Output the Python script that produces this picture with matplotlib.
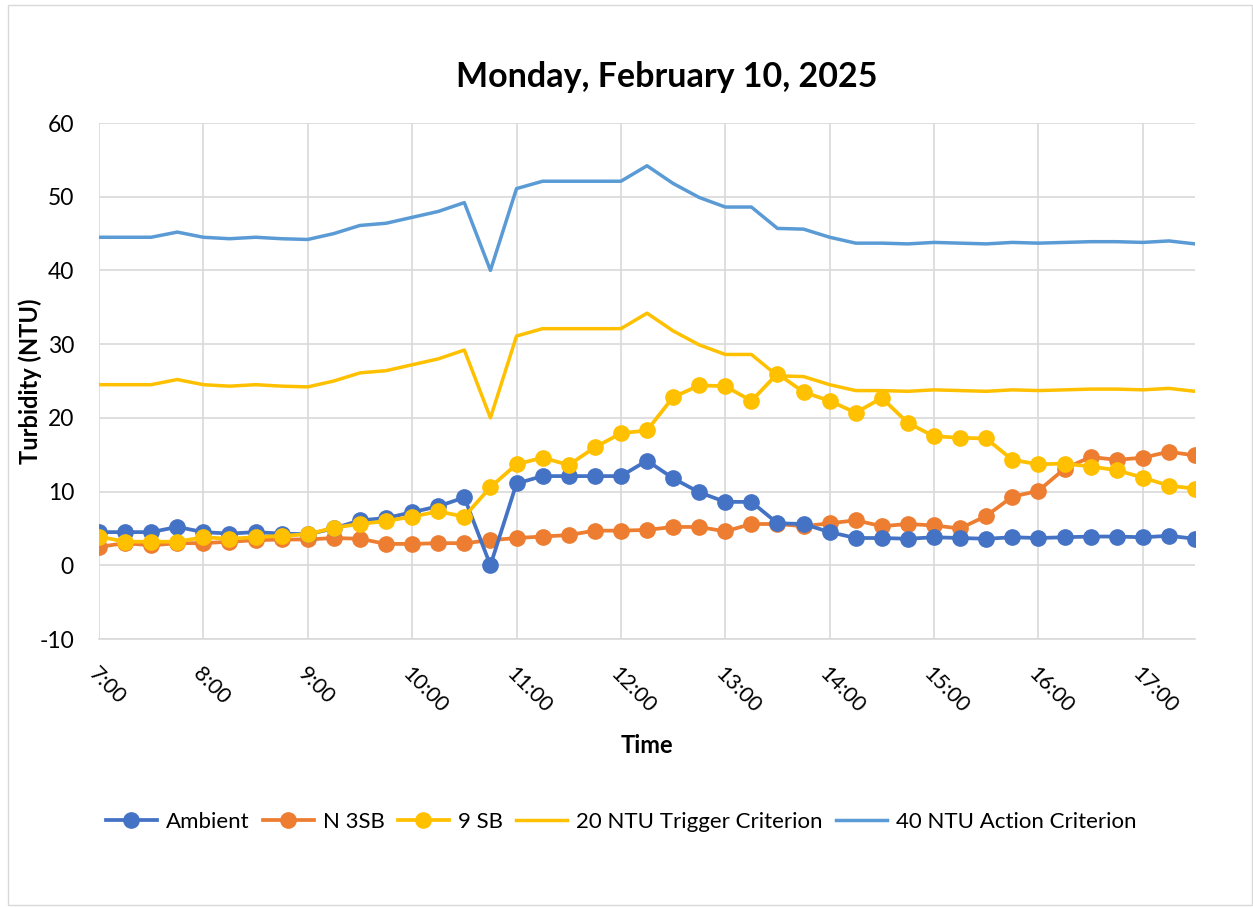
import matplotlib
matplotlib.use("Agg")
import matplotlib.pyplot as plt
from matplotlib.patches import Rectangle

times = ["7:00","7:15","7:30","7:45","8:00","8:15","8:30","8:45","9:00","9:15","9:30","9:45",
         "10:00","10:15","10:30","10:45","11:00","11:15","11:30","11:45","12:00","12:15","12:30","12:45",
         "13:00","13:15","13:30","13:45","14:00","14:15","14:30","14:45","15:00","15:15","15:30","15:45",
         "16:00","16:15","16:30","16:45","17:00","17:15","17:30"]

ambient = [4.5,4.5,4.5,5.2,4.5,4.3,4.5,4.3,4.2,5.0,6.1,6.4,
           7.2,8.0,9.2,0.0,11.1,12.1,12.1,12.1,12.1,14.2,11.8,9.9,
           8.6,8.6,5.7,5.6,4.5,3.7,3.7,3.6,3.8,3.7,3.6,3.8,
           3.7,3.8,3.9,3.9,3.8,4.0,3.6]

n3sb = [2.5,3.0,2.7,3.0,3.0,3.2,3.4,3.5,3.5,3.7,3.6,2.9,
        2.9,3.0,3.0,3.4,3.7,3.9,4.1,4.7,4.7,4.8,5.2,5.2,
        4.6,5.6,5.6,5.3,5.7,6.1,5.3,5.6,5.4,5.0,6.7,9.3,
        10.1,13.1,14.7,14.3,14.6,15.4,14.9]

sb9 = [3.9,3.2,3.2,3.2,3.8,3.6,3.8,4.0,4.2,5.1,5.6,6.0,
       6.6,7.3,6.6,10.6,13.7,14.6,13.6,16.0,17.9,18.3,22.8,24.4,
       24.3,22.3,26.0,23.5,22.3,20.7,22.7,19.3,17.5,17.3,17.2,14.3,
       13.7,13.8,13.4,12.9,11.9,10.8,10.4]

trigger20 = [24.5,24.5,24.5,25.2,24.5,24.3,24.5,24.3,24.2,25.0,26.1,26.4,
             27.2,28.0,29.2,20.0,31.1,32.1,32.1,32.1,32.1,34.2,31.8,29.9,
             28.6,28.6,25.7,25.6,24.5,23.7,23.7,23.6,23.8,23.7,23.6,23.8,
             23.7,23.8,23.9,23.9,23.8,24.0,23.6]

action40 = [44.5,44.5,44.5,45.2,44.5,44.3,44.5,44.3,44.2,45.0,46.1,46.4,
            47.2,48.0,49.2,40.0,51.1,52.1,52.1,52.1,52.1,54.2,51.8,49.9,
            48.6,48.6,45.7,45.6,44.5,43.7,43.7,43.6,43.8,43.7,43.6,43.8,
            43.7,43.8,43.9,43.9,43.8,44.0,43.6]

plt.rcParams['font.family'] = ['Lato', 'DejaVu Sans']
plt.rcParams['axes.unicode_minus'] = False

fig = plt.figure(figsize=(12.53, 9.07), dpi=100)
ax = fig.add_axes([99/1253, 1-639/907, (1195-99)/1253, (639-123)/907])

x = list(range(len(times)))
ms = 11
lw = 2.7
ax.plot(x, ambient, color="#4472C4", lw=lw, marker="o", ms=ms, label="Ambient", zorder=5)
ax.plot(x, n3sb, color="#ED7D31", lw=lw, marker="o", ms=ms, label="N 3SB", zorder=4)
ax.plot(x, sb9, color="#FFC000", lw=lw, marker="o", ms=ms, label="9 SB", zorder=6)
ax.plot(x, trigger20, color="#FFC000", lw=2.5, label="20 NTU Trigger Criterion", zorder=3)
ax.plot(x, action40, color="#5B9BD5", lw=2.5, label="40 NTU Action Criterion", zorder=3)

ax.set_xlim(0, len(times) - 1)
ax.set_ylim(-10, 60)
ax.set_yticks(range(-10, 61, 10))
hour_idx = [i for i, t in enumerate(times) if t.endswith(":00")]
ax.set_xticks(hour_idx)
ax.set_xticklabels([times[i] for i in hour_idx], rotation=-45, ha="left", va="top",
                   rotation_mode="anchor", fontsize=15.5)
ax.tick_params(axis="x", length=0, pad=18)
ax.tick_params(axis="y", length=0, pad=18, labelsize=16.5)
ax.grid(True, color="#D9D9D9", lw=1.2)
ax.set_axisbelow(True)
for s in ["top", "right", "left"]:
    ax.spines[s].set_visible(False)
ax.spines["bottom"].set_color("#D9D9D9")
ax.spines["bottom"].set_linewidth(1.2)

ax.set_xlabel("Time", fontsize=17, fontweight="bold", labelpad=12)
ax.set_ylabel("Turbidity (NTU)", fontsize=17, fontweight="bold", va="center")
ax.yaxis.set_label_coords(-(99 - 30) / (1195 - 99), 0.5)

fig.text(667/1253, 1-77/907, "Monday, February 10, 2025", ha="center", va="center",
         fontsize=24.5, fontweight="bold")

fig.legend(loc="center", bbox_to_anchor=(621/1253, 1-822/907), ncol=5, frameon=False,
           fontsize=16, handlelength=2.3, columnspacing=0.6, handletextpad=0.4)

fig.patches.append(Rectangle((8/1253, 0.002), 1-8/1253-0.001, 1-5/907-0.002,
                             transform=fig.transFigure, fill=False, ec="#D9D9D9", lw=1))

fig.savefig("out.png", dpi=100)
